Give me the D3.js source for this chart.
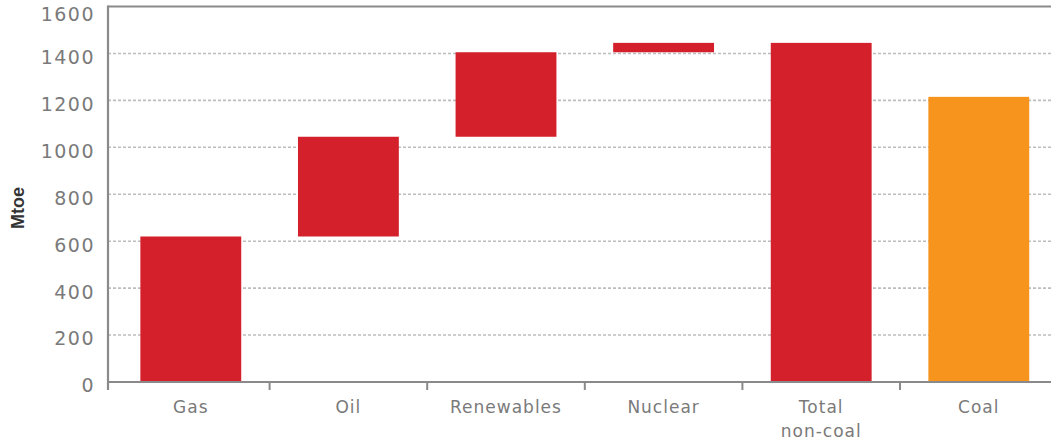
<!DOCTYPE html>
<html><head><meta charset="utf-8">
<script src="https://cdn.jsdelivr.net/npm/d3@7"></script>
<style>
html,body{margin:0;padding:0;background:#fff;}
svg{display:block;}
</style></head>
<body>
<svg id="chart" width="1051" height="441"></svg>
<script>
const categories = ["Gas", "Oil", "Renewables", "Nuclear", "Total non-coal", "Coal"];
const labelLines = [["Gas"], ["Oil"], ["Renewables"], ["Nuclear"], ["Total", "non-coal"], ["Coal"]];
const barStart = [0, 620, 1045, 1405, 0, 0];
const barEnd = [620, 1045, 1405, 1445, 1445, 1215];
const barKind = ["red", "red", "red", "red", "red", "orange"];
const yTicks = [0, 200, 400, 600, 800, 1000, 1200, 1400, 1600];
const yTitle = "Mtoe";

const colors = {red: "#d3202a", orange: "#f7941d"};
const svg = d3.select("#chart");
const axisX = 108, bandStart = 112, bandEnd = 1057.6, mTop = 6.5, mBottom = 382;

const x = d3.scaleBand().domain(categories).range([bandStart, bandEnd]).paddingInner(0.36).paddingOuter(0.18);
const y = d3.scaleLinear().domain([0, 1600]).range([mBottom, mTop]);
const gap = (x.step() - x.bandwidth()) / 2;

// gridlines
svg.append("g").selectAll("line").data(yTicks.filter(d => d > 0 && d < 1600)).join("line")
  .attr("x1", axisX).attr("x2", 1051)
  .attr("y1", d => y(d)).attr("y2", d => y(d))
  .attr("stroke", "#bdbdbd").attr("stroke-width", 1.6).attr("stroke-dasharray", "3,2");

// bars
const data = categories.map((c, i) => ({c, s: barStart[i], e: barEnd[i], k: barKind[i], lines: labelLines[i]}));
svg.append("g").selectAll("rect").data(data).join("rect")
  .attr("x", d => x(d.c)).attr("width", x.bandwidth())
  .attr("y", d => y(d.e)).attr("height", d => y(d.s) - y(d.e))
  .attr("fill", d => colors[d.k]);

// top frame line
svg.append("line").attr("x1", axisX).attr("x2", 1051).attr("y1", y(1600)).attr("y2", y(1600))
  .attr("stroke", "#8a8a8a").attr("stroke-width", 2.2);

// y axis
const yAxis = d3.axisLeft(y).tickValues(yTicks).tickSize(0).tickPadding(13).tickFormat(d3.format("d"));
const gy = svg.append("g").attr("transform", `translate(${axisX},0)`).call(yAxis);
gy.select(".domain").remove();
gy.selectAll("text").attr("font-family", "DejaVu Sans, sans-serif").attr("font-size", 19)
  .attr("fill", "#7a7a7a").attr("letter-spacing", "1.5px")
  .attr("dy", d => d === 1600 ? "0.72em" : "0.52em");
svg.append("line").attr("x1", axisX).attr("x2", axisX).attr("y1", y(1600) - 1).attr("y2", mBottom + 8)
  .attr("stroke", "#8a8a8a").attr("stroke-width", 2.2);

// x axis
svg.append("line").attr("x1", axisX).attr("x2", 1051).attr("y1", mBottom).attr("y2", mBottom)
  .attr("stroke", "#8a8a8a").attr("stroke-width", 2.2);
svg.append("g").selectAll("line").data(categories.slice(1)).join("line")
  .attr("x1", d => x(d) - gap).attr("x2", d => x(d) - gap)
  .attr("y1", mBottom).attr("y2", mBottom + 8)
  .attr("stroke", "#8a8a8a").attr("stroke-width", 2);

const xl = svg.append("g").selectAll("text").data(data).join("text")
  .attr("x", d => x(d.c) + x.bandwidth() / 2)
  .attr("y", 413)
  .attr("text-anchor", "middle")
  .attr("font-family", "DejaVu Sans, sans-serif").attr("font-size", 17)
  .attr("fill", "#7a7a7a").attr("letter-spacing", "1px");
xl.selectAll("tspan").data(d => d.lines.map((t, j) => ({t, j, cx: x(d.c) + x.bandwidth() / 2}))).join("tspan")
  .attr("x", t => t.cx).attr("dy", t => t.j === 0 ? 0 : 24).text(t => t.t);

// y title
svg.append("text").attr("transform", `translate(24,208) rotate(-90)`)
  .attr("text-anchor", "middle")
  .attr("font-family", "Liberation Sans Narrow, Liberation Sans, Arial, sans-serif")
  .attr("font-weight", "bold").attr("font-size", 18).attr("fill", "#333")
  .text(yTitle);
</script>
</body></html>
